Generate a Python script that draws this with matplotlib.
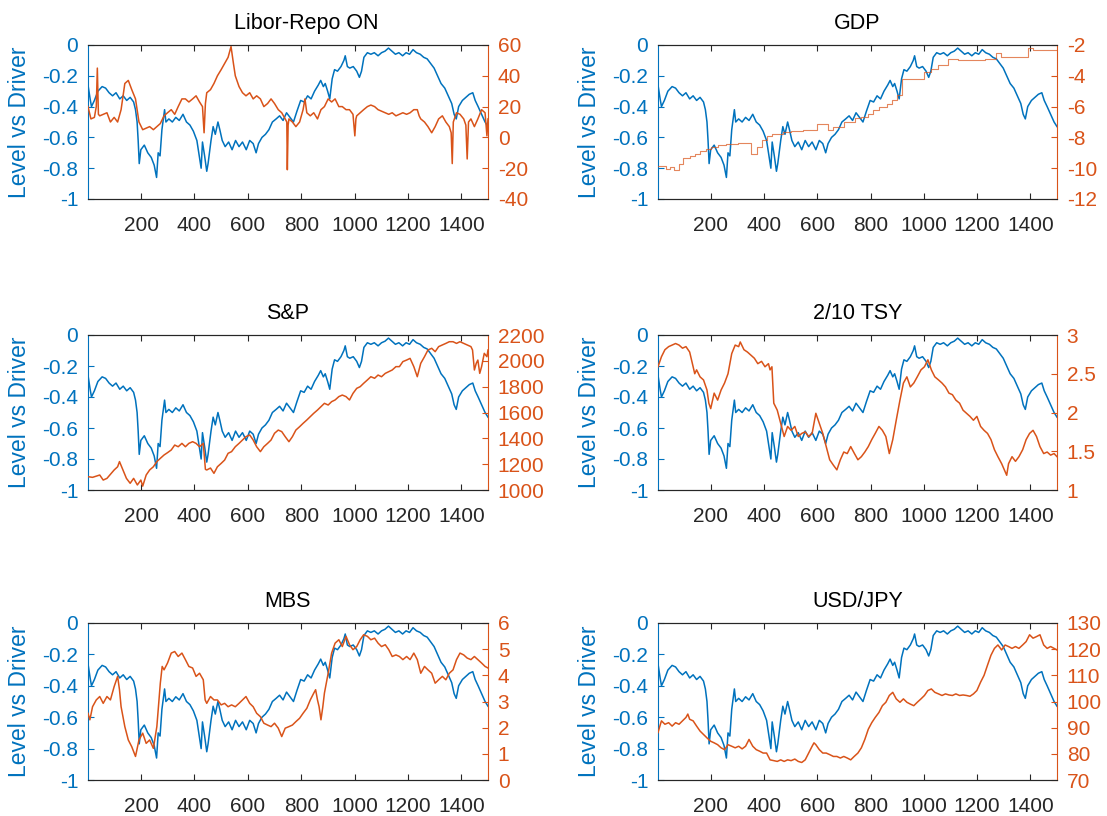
import numpy as np
import matplotlib.pyplot as plt

plt.rcParams['font.family'] = ['Liberation Sans', 'DejaVu Sans']
plt.rcParams['axes.unicode_minus'] = False

blue = '#0072BD'
orange = '#D95319'
dark = '#262626'

# level series, shared by every panel (left axis)
level_x = [1, 9, 14, 25, 38, 54, 67, 80, 93, 106,
           120, 133, 146, 159, 172, 179, 185, 189, 193, 199,
           212, 225, 238, 249, 258, 264, 271, 278, 288, 293,
           304, 317, 330, 343, 357, 370, 383, 396, 409, 418,
           425, 430, 438, 446, 451, 462, 470, 478, 488, 495,
           504, 515, 528, 541, 554, 567, 580, 594, 607, 620,
           631, 640, 653, 666, 679, 692, 706, 719, 732, 745,
           758, 771, 784, 798, 811, 824, 837, 850, 864, 873,
           883, 890, 899, 907, 916, 925, 936, 949, 960, 965,
           973, 982, 995, 1008, 1018, 1026, 1035, 1048, 1061, 1074,
           1088, 1101, 1114, 1127, 1140, 1153, 1166, 1180, 1193, 1206,
           1219, 1232, 1246, 1259, 1272, 1285, 1298, 1311, 1324, 1338,
           1351, 1364, 1373, 1381, 1390, 1404, 1417, 1430, 1443, 1452,
           1463, 1476, 1489, 1500]
level_y = [-0.26, -0.35, -0.40, -0.36, -0.30, -0.27, -0.28, -0.31, -0.33, -0.31,
           -0.35, -0.33, -0.36, -0.34, -0.37, -0.42, -0.50, -0.62, -0.77, -0.68,
           -0.65, -0.70, -0.73, -0.78, -0.86, -0.70, -0.72, -0.55, -0.42, -0.50,
           -0.48, -0.50, -0.47, -0.49, -0.45, -0.50, -0.52, -0.56, -0.62, -0.72,
           -0.80, -0.63, -0.72, -0.82, -0.77, -0.62, -0.53, -0.58, -0.50, -0.55,
           -0.62, -0.66, -0.63, -0.68, -0.62, -0.66, -0.63, -0.68, -0.62, -0.64,
           -0.70, -0.64, -0.60, -0.58, -0.55, -0.50, -0.48, -0.46, -0.49, -0.44,
           -0.47, -0.50, -0.43, -0.36, -0.37, -0.33, -0.35, -0.30, -0.26, -0.23,
           -0.27, -0.25, -0.30, -0.35, -0.22, -0.16, -0.17, -0.14, -0.10, -0.07,
           -0.14, -0.15, -0.14, -0.17, -0.21, -0.17, -0.08, -0.05, -0.06, -0.05,
           -0.07, -0.05, -0.04, -0.02, -0.04, -0.06, -0.05, -0.07, -0.05, -0.06,
           -0.03, -0.05, -0.06, -0.08, -0.09, -0.12, -0.15, -0.20, -0.25, -0.28,
           -0.33, -0.38, -0.45, -0.48, -0.40, -0.36, -0.34, -0.32, -0.31, -0.36,
           -0.40, -0.45, -0.50, -0.53]

# drivers (right axis)
libor_x = [1, 12, 25, 32, 36, 40, 45, 72, 85, 99, 112, 125, 139, 152, 165, 179,
           192, 206, 219, 232, 246, 259, 272, 286, 299, 313, 326, 339, 353, 366,
           379, 393, 406, 419, 430, 436, 441, 446, 460, 473, 486, 500, 513, 526,
           537, 546, 553, 567, 580, 593, 607, 620, 633, 647, 660, 674, 687, 700,
           714, 727, 740, 746, 748, 751, 754, 767, 780, 794, 807, 814, 821, 834,
           847, 861, 874, 887, 901, 914, 927, 941, 954, 968, 981, 994, 1001, 1005,
           1008, 1021, 1034, 1048, 1061, 1075, 1088, 1101, 1115, 1128, 1141, 1155,
           1168, 1181, 1195, 1208, 1222, 1235, 1242, 1248, 1262, 1275, 1289, 1302,
           1315, 1329, 1342, 1355, 1362, 1366, 1370, 1382, 1395, 1409, 1417, 1422,
           1427, 1436, 1449, 1462, 1476, 1489, 1496, 1500]
libor_y = [20, 12, 13, 20, 45, 15, 14, 16, 10, 13, 10, 18, 35, 37, 31, 25,
           10, 5, 6, 7, 5, 7, 9, 14, 16, 18, 15, 20, 25, 25,
           23, 25, 27, 23, 20, 3, 22, 29, 31, 35, 40, 44, 48, 52,
           59, 48, 40, 33, 29, 27, 29, 25, 27, 25, 20, 22, 25, 22,
           18, 16, 12, 10, -21, 8, 12, 10, 7, 10, 18, 25, 16, 14,
           16, 12, 18, 20, 25, 23, 25, 20, 20, 18, 18, 15, 1, 12,
           14, 16, 18, 20, 21, 20, 18, 17, 16, 15, 16, 14,
           15, 16, 15, 16, 18, 18, 14, 12, 10, 7, 3, 7,
           12, 14, 10, 7, 3, -17, 10, 16, 15, 12, 8, -14,
           10, 12, 7, 12, 18, 16, 1, 12]

gdp_x = [1, 30, 45, 62, 80, 95, 120, 140, 160, 180,
         200, 225, 255, 300, 350, 372, 390, 410, 430, 470,
         500, 545, 600, 640, 660, 700, 740, 765, 790, 810,
         830, 860, 880, 900, 916, 1002, 1027, 1052, 1090, 1128,
         1190, 1228, 1272, 1290, 1392, 1410, 1500]
gdp_y = [-9.85, -10.05, -9.95, -10.1, -9.7, -9.35, -9.2, -9.05, -8.9, -8.75,
         -8.6, -8.5, -8.4, -8.35, -9.1, -8.6, -8.2, -7.9, -7.75, -7.65,
         -7.6, -7.5, -7.15, -7.55, -7.3, -7.0, -6.75, -6.7, -6.45, -6.25,
         -6.0, -5.8, -5.6, -5.25, -4.2, -3.75, -3.55, -3.3, -2.9, -2.95,
         -3.0, -2.9, -2.5, -2.8, -2.2, -2.3, -2.3]

spx_x = [1, 18, 45, 58, 72, 99, 112, 119, 132, 145, 159, 172, 186, 199, 206,
         219, 232, 246, 259, 272, 286, 299, 313, 326, 339, 353, 366, 379, 393,
         406, 419, 433, 441, 446, 460, 473, 486, 500, 513, 526, 539, 553, 567,
         580, 593, 607, 620, 633, 647, 660, 674, 687, 700, 714, 727, 740, 754,
         767, 780, 794, 807, 821, 834, 847, 861, 874, 887, 901, 914, 927, 941,
         954, 968, 981, 994, 1008, 1021, 1034, 1048, 1061, 1075, 1088, 1101,
         1115, 1128, 1141, 1155, 1168, 1181, 1195, 1208, 1222, 1235, 1248, 1262,
         1275, 1289, 1302, 1315, 1329, 1342, 1355, 1369, 1382, 1395, 1409, 1422,
         1436, 1442, 1449, 1456, 1462, 1469, 1476, 1486, 1496, 1500]
spx_y = [1103, 1098, 1116, 1077, 1090, 1155, 1180, 1220, 1155, 1090, 1052, 1090, 1039, 1077, 1030,
         1116, 1155, 1180, 1220, 1245, 1271, 1289, 1310, 1348, 1335, 1361, 1335, 1361, 1374,
         1361, 1335, 1361, 1160, 1155, 1170, 1129, 1180, 1206, 1232, 1284, 1297, 1335, 1361,
         1387, 1413, 1426, 1387, 1335, 1297, 1335, 1361, 1387, 1439, 1464, 1452, 1413, 1374,
         1413, 1464, 1490, 1516, 1542, 1568, 1594, 1619, 1645, 1671, 1658, 1684, 1697, 1723,
         1735, 1723, 1697, 1748, 1787, 1800, 1826, 1852, 1877, 1865, 1890, 1877,
         1903, 1916, 1929, 1955, 1955, 1994, 2006, 2019, 1955, 1877, 1981, 2032,
         2084, 2097, 2071, 2110, 2123, 2135, 2148, 2148, 2135, 2148, 2135, 2123,
         2110, 2084, 1929, 1981, 2006, 1903, 1955, 2058, 2032, 2084]

tsy_x = [1, 14, 27, 41, 54, 67, 80, 93, 106, 120, 133, 139, 146, 159, 172, 185,
         192, 199, 212, 225, 238, 251, 264, 278, 291, 304, 310, 324, 337, 350,
         363, 376, 390, 403, 416, 422, 429, 436, 449, 462, 475, 488, 501, 515,
         528, 541, 554, 567, 580, 594, 607, 620, 633, 646, 660, 673, 686, 699,
         712, 725, 739, 752, 765, 778, 791, 804, 817, 831, 844, 857, 870, 883,
         896, 910, 923, 936, 949, 962, 975, 989, 1002, 1015, 1028, 1041, 1055,
         1068, 1081, 1094, 1107, 1120, 1134, 1147, 1160, 1173, 1186, 1199, 1213,
         1226, 1239, 1252, 1265, 1278, 1292, 1311, 1318, 1331, 1344, 1357, 1371,
         1384, 1397, 1410, 1423, 1436, 1450, 1463, 1476, 1489, 1500]
tsy_y = [2.59, 2.72, 2.81, 2.85, 2.87, 2.89, 2.87, 2.83, 2.85, 2.78, 2.59, 2.5, 2.55, 2.46, 2.42, 2.29,
         2.12, 2.05, 2.25, 2.16, 2.29, 2.38, 2.5, 2.76, 2.87, 2.85, 2.91, 2.81, 2.78, 2.74,
         2.7, 2.63, 2.66, 2.59, 2.63, 2.55, 2.59, 2.12, 2.03, 1.86, 1.69, 1.82, 1.77, 1.82,
         1.69, 1.73, 1.75, 1.69, 1.73, 1.99, 1.86, 1.73, 1.56, 1.39, 1.32, 1.26, 1.39, 1.49,
         1.47, 1.56, 1.47, 1.39, 1.43, 1.49, 1.56, 1.65, 1.73, 1.82, 1.77, 1.69, 1.47, 1.65,
         1.9, 2.16, 2.38, 2.46, 2.33, 2.38, 2.46, 2.55, 2.59, 2.68, 2.55, 2.46, 2.42,
         2.38, 2.33, 2.25, 2.23, 2.16, 2.12, 2.03, 1.99, 1.95, 1.9, 1.95, 1.82,
         1.77, 1.73, 1.65, 1.52, 1.43, 1.34, 1.19, 1.34, 1.43, 1.37, 1.43, 1.52,
         1.65, 1.73, 1.77, 1.69, 1.56, 1.47, 1.49, 1.45, 1.47, 1.43]

mbs_x = [1, 8, 18, 32, 45, 58, 72, 85, 99, 112, 119, 125, 139, 152, 165, 179,
         192, 206, 219, 232, 246, 259, 266, 272, 279, 286, 299, 313, 326, 339,
         353, 366, 379, 393, 406, 419, 433, 440, 446, 460, 473, 486, 500, 513,
         526, 539, 553, 567, 580, 593, 607, 620, 633, 647, 660, 674, 687, 700,
         714, 727, 740, 754, 767, 780, 794, 807, 821, 834, 847, 854, 861, 867,
         874, 881, 887, 901, 914, 927, 941, 954, 968, 981, 994, 1008, 1021, 1034,
         1048, 1061, 1075, 1088, 1101, 1115, 1128, 1141, 1155, 1168, 1181, 1195,
         1208, 1222, 1235, 1248, 1262, 1275, 1289, 1302, 1315, 1329, 1342, 1355,
         1369, 1382, 1395, 1409, 1422, 1436, 1449, 1462, 1476, 1489, 1500]
mbs_y = [2.55, 2.3, 2.8, 3.06, 3.19, 2.93, 3.19, 3.06, 3.57, 3.96, 3.45, 2.8, 2.04, 1.53, 1.27, 0.9,
         1.53, 1.79, 1.4, 1.53, 1.21, 2.04, 2.93, 3.7, 4.34, 4.21, 4.47, 4.85, 4.91, 4.72,
         4.85, 4.6, 4.34, 4.28, 3.96, 4.08, 3.83, 3.06, 2.93, 3.19, 3.06, 3.06, 2.87, 2.93,
         2.8, 2.87, 2.8, 2.93, 3.06, 3.19, 2.93, 2.8, 2.55, 2.42, 2.17, 2.1, 2.04, 2.17,
         1.98, 1.66, 1.98, 2.04, 2.1, 2.23, 2.36, 2.55, 2.74, 3.06, 3.32, 3.45, 3.06, 2.8,
         2.3, 2.8, 3.32, 4.08, 4.85, 5.23, 5.36, 5.1, 5.49, 5.17, 4.98, 5.1, 5.36, 5.55,
         5.49, 5.36, 5.42, 5.23, 5.1, 5.17, 4.98, 4.72, 4.78, 4.72, 4.6, 4.72,
         4.6, 4.85, 4.6, 4.08, 4.34, 4.21, 4.08, 3.7, 3.83, 3.96, 3.83, 4.08,
         4.21, 4.6, 4.85, 4.78, 4.66, 4.6, 4.72, 4.6, 4.47, 4.34, 4.28]

jpy_x = [1, 8, 14, 27, 41, 54, 67, 80, 93, 106, 113, 120, 133, 146, 159, 172,
         185, 199, 212, 225, 238, 251, 264, 278, 291, 304, 317, 330, 343, 357,
         370, 383, 396, 409, 422, 436, 449, 462, 475, 488, 501, 515, 528, 541,
         554, 567, 580, 587, 594, 607, 620, 633, 646, 660, 673, 686, 699, 712,
         725, 738, 752, 765, 778, 791, 804, 817, 831, 844, 857, 870, 883, 896,
         910, 923, 936, 949, 962, 975, 989, 1002, 1015, 1028, 1041, 1055, 1068,
         1081, 1094, 1107, 1120, 1134, 1147, 1160, 1173, 1186, 1199, 1213, 1226,
         1239, 1252, 1265, 1278, 1292, 1305, 1318, 1331, 1344, 1357, 1371, 1384,
         1397, 1410, 1423, 1436, 1450, 1463, 1476, 1489, 1500]
jpy_y = [88.1, 90.6, 92.6, 91.3, 91.9, 90.6, 91.9, 91.3, 92.6, 93.9, 95.2, 93.2, 92.6, 90.6, 88.7, 87.4,
         86.1, 84.8, 84.2, 83.5, 82.3, 81.6, 83.5, 82.9, 82.3, 82.9, 81.9, 82.9, 85.5, 82.9,
         81.6, 81.0, 80.3, 80.3, 77.7, 77.4, 77.1, 77.7, 77.1, 77.7, 77.4, 78.0, 77.1, 76.7,
         77.7, 80.3, 82.9, 84.2, 83.5, 81.6, 80.3, 80.3, 79.7, 79.0, 79.0, 78.4, 79.0, 78.4,
         77.7, 79.0, 80.3, 82.3, 85.5, 89.4, 91.9, 93.9, 95.8, 98.4, 99.7, 102.3, 103.5, 101.0,
         99.7, 101.0, 99.7, 99.0, 98.4, 99.7, 101.0, 102.3, 104.2, 104.8, 103.5, 102.9, 102.3,
         102.9, 102.5, 102.3, 102.9, 102.3, 102.5, 102.3, 102.0, 102.9, 104.2, 107.4, 110.0,
         113.9, 117.7, 120.3, 121.6, 119.7, 121.6, 121.0, 120.3, 121.0, 120.3, 121.6, 122.9,
         125.5, 124.2, 124.8, 125.5, 121.6, 120.3, 121.0, 120.3, 119.7]

titles = ['Libor-Repo ON', 'GDP', 'S&P', '2/10 TSY', 'MBS', 'USD/JPY']
drivers = [(libor_x, libor_y), (gdp_x, gdp_y), (spx_x, spx_y),
           (tsy_x, tsy_y), (mbs_x, mbs_y), (jpy_x, jpy_y)]
right_ticks = [[-40, -20, 0, 20, 40, 60],
               [-12, -10, -8, -6, -4, -2],
               [1000, 1200, 1400, 1600, 1800, 2000, 2200],
               [1, 1.5, 2, 2.5, 3],
               [0, 1, 2, 3, 4, 5, 6],
               [70, 80, 90, 100, 110, 120, 130]]
left_ticks = [-1, -0.8, -0.6, -0.4, -0.2, 0]
x_ticks = [200, 400, 600, 800, 1000, 1200, 1400]

W, H = 1107, 816
fig = plt.figure(figsize=(W / 100, H / 100), dpi=100)

col_left = [88, 658]
col_width = [400, 399]
row_span = [(45, 199), (335, 490), (623, 780)]
title_x = [0.545, 0.5, 0.5, 0.5, 0.5, 0.5]

for k in range(6):
    r, c = divmod(k, 2)
    top, bot = row_span[r]
    ax = fig.add_axes([col_left[c] / W, 1 - bot / H, col_width[c] / W, (bot - top) / H])

    ax.plot(level_x, level_y, color=blue, lw=1.1)
    ax.set_xlim(1, 1500)
    ax.set_ylim(-1, 0)
    ax.set_xticks(x_ticks)
    ax.set_yticks(left_ticks)
    ax.set_yticklabels(['%g' % v for v in left_ticks])
    ax.tick_params(axis='x', direction='in', top=True, length=4, width=0.8,
                   colors=dark, labelsize=15, pad=12)
    ax.tick_params(axis='y', direction='in', length=4, width=0.8,
                   colors=blue, labelsize=15, pad=7)
    ax.set_ylabel('Level vs Driver', color=blue, fontsize=16.5)
    ax.yaxis.set_label_coords(-0.142, 0.5)
    ax.set_title(titles[k], fontsize=15.5, color='black', pad=11.5, x=title_x[k])

    ax2 = ax.twinx()
    dx, dy = drivers[k]
    if k == 1:
        ax2.step(dx, dy, where='post', color=orange, lw=0.8, alpha=0.7)
    else:
        ax2.plot(dx, dy, color=orange, lw=1.1)
    rt = right_ticks[k]
    ax2.set_ylim(rt[0], rt[-1])
    ax2.set_yticks(rt)
    ax2.set_yticklabels(['%g' % v for v in rt])
    ax2.tick_params(axis='y', direction='in', length=4, width=0.8,
                    colors=orange, labelsize=15, pad=7)

    for a in (ax, ax2):
        a.spines['top'].set_color(dark)
        a.spines['bottom'].set_color(dark)
        a.spines['left'].set_color(blue)
        a.spines['right'].set_color(orange)
    ax.spines['right'].set_visible(False)
    ax2.spines['left'].set_visible(False)

fig.savefig('out.png', dpi=100)
